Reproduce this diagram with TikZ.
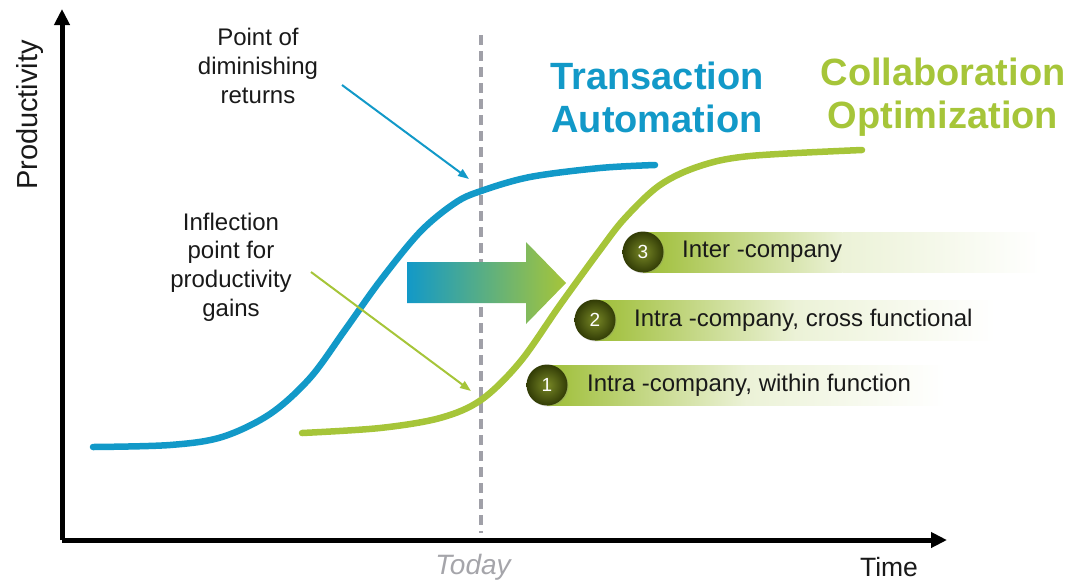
\documentclass[tikz,border=0pt]{standalone}
\usepackage{fontspec}
\setmainfont{Liberation Sans}
\usetikzlibrary{arrows.meta,shadows}

\definecolor{tblue}{RGB}{18,153,200}
\definecolor{cgreen}{RGB}{166,197,57}
\definecolor{bargreen}{RGB}{158,190,55}
\definecolor{olivedark}{RGB}{50,60,6}
\definecolor{olivelight}{RGB}{120,136,38}
\definecolor{dashgray}{RGB}{160,160,168}
\definecolor{todaygray}{RGB}{165,165,170}
\definecolor{ink}{RGB}{25,25,25}

\begin{document}
\begin{tikzpicture}[x=1pt,y=-1pt,
  axis/.style={line width=5pt,draw=black,-{Triangle[length=16pt,width=15pt]}},
  curve/.style={line width=6.5pt,line cap=round,line join=round},
  pointer/.style={line width=2pt,-{Triangle[length=11pt,width=8pt]}},
  label/.style={text=ink,align=center,font=\fontsize{24}{28.7}\selectfont},
  title/.style={align=center,font=\fontsize{38}{43}\selectfont\bfseries},
  stepnum/.style={circle,minimum size=41pt,inner sep=0pt,
    inner color=olivelight,outer color=olivedark,text=white,
    font=\fontsize{19}{19}\selectfont,drop shadow={opacity=0.25,shadow xshift=1pt,shadow yshift=-1pt}},
  steptext/.style={anchor=west,text=ink,font=\fontsize{24}{26}\selectfont,inner sep=0pt}
]
\useasboundingbox (0,0) rectangle (1081,582);

% axes
\coordinate (origin) at (62,540);
\coordinate (ytop) at (62,9);
\coordinate (xend) at (947,540);
\draw[axis] (origin) -- (ytop);
\draw[axis] (origin) -- (xend);
\node[rotate=90,text=ink,font=\fontsize{29}{29}\selectfont] (ylab) at (30,115) {Productivity};
\node[text=ink,font=\fontsize{26.5}{26.5}\selectfont] (xlab) at (889,567) {Time};
\node[text=todaygray,font=\fontsize{28}{28}\selectfont\itshape] (today) at (473,567) {Today};

% "today" marker
\coordinate (dtop) at (481,35);
\coordinate (dbot) at (481,533);
\draw[dashgray,line width=3.5pt,dash pattern=on 10pt off 6pt] (dtop) -- (dbot);

% step bars
\foreach \cx/\cy/\ex/\n/\txt/\tx in {
  643/252/1042/3/{Inter -company}/682,
  595/320/995/2/{Intra -company, cross functional}/634,
  547/385/945/1/{Intra -company, within function}/587}{
  \pgfmathsetmacro{\mx}{\cx+0.5*(\ex-\cx)}
  \shade[left color=bargreen,right color=bargreen!20] (\cx,\cy-20) rectangle (\mx,\cy+20);
  \shade[left color=bargreen!20,right color=white] (\mx,\cy-20) rectangle (\ex,\cy+20);
  \node[stepnum] (n\n) at (\cx,\cy) {\n};
  \node[steptext] (t\n) at (\tx,\cy) {\txt};
}

% transition arrow
\shade[left color=tblue,right color=cgreen]
  (407,262) -- (526,262) -- (526,242) -- (566,283) -- (526,324) -- (526,303) -- (407,303) -- cycle;

% productivity curves
\draw[curve,tblue] plot[smooth,tension=0.55] coordinates {
  (93,447) (170,445) (222,437) (270,414) (310,378) (345,330) (380,281)
  (420,232) (455,203) (481,191) (530,177) (600,168) (655,165)};
\draw[curve,cgreen] plot[smooth,tension=0.55] coordinates {
  (302,433) (380,428) (440,418) (481,400) (520,362) (560,305)
  (600,250) (625,218) (660,185) (700,166) (750,156) (862,150)};

% titles
\node[title,text=tblue] (ta) at (657,97) {Transaction\\Automation};
\node[title,text=cgreen] (co) at (943,97) {Collaboration\\Optimization};

% annotations
\node[label] (pdr) at (258,66) {Point of\\diminishing\\returns};
\node[label] (ipg) at (231,267) {Inflection\\point for\\productivity\\gains};
\coordinate (pdrs) at (342,85);
\coordinate (pdre) at (469,179);
\coordinate (ipgs) at (311,272);
\coordinate (ipge) at (471,391);
\draw[pointer,tblue] (pdrs) -- (pdre);
\draw[pointer,cgreen] (ipgs) -- (ipge);
\end{tikzpicture}
\end{document}
